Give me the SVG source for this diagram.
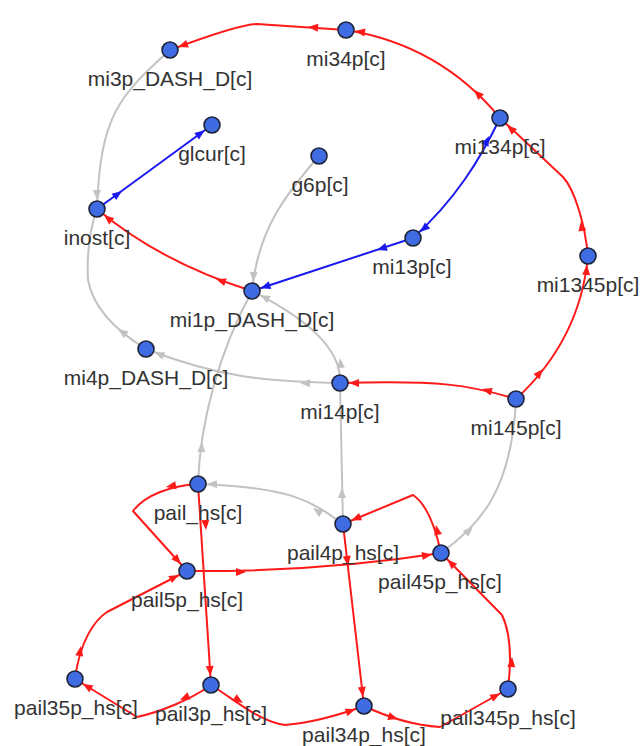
<svg xmlns="http://www.w3.org/2000/svg" xmlns:xlink="http://www.w3.org/1999/xlink" width="643" height="746" viewBox="0 0 643 746">
<style>
.e{fill:none;stroke-width:2;stroke-linejoin:round}
.er{stroke:#ff1a1a}
.eb{stroke:#1a1aee}
.eg{stroke:#c2c2c2}
.ar{fill:#ff1a1a}
.ab{fill:#1a1aee}
.ag{fill:#c2c2c2}
.n circle{fill:#3f6be3;stroke:#1e2438;stroke-width:1.6}
.n text{font-family:"Liberation Sans",Arial,sans-serif;font-size:21px;fill:#333333;text-anchor:middle}
</style>
<defs>
<path id="ah" d="M0,0 L-10,-4 L-10,4 Z"/>
</defs>
<rect width="643" height="746" fill="#ffffff"/>
<g id="connectors">
<!-- red -->
<path class="e er" d="M346,30 L257,24 Q240,24 170,50"/>
<use xlink:href="#ah" class="ar" transform="translate(308,27) rotate(184)"/>
<use xlink:href="#ah" class="ar" transform="translate(178,47) rotate(161)"/>
<path class="e er" d="M500,118 Q440,45 346,30"/>
<use xlink:href="#ah" class="ar" transform="translate(474,90) rotate(225)"/>
<use xlink:href="#ah" class="ar" transform="translate(355,31) rotate(189)"/>
<path class="e er" d="M588,256 C585,225 575,190 563,177 L500,118"/>
<use xlink:href="#ah" class="ar" transform="translate(581,221) rotate(262)"/>
<use xlink:href="#ah" class="ar" transform="translate(507,125) rotate(223)"/>
<path class="e er" d="M516,399 Q580,340 588,256"/>
<use xlink:href="#ah" class="ar" transform="translate(543,369) rotate(310)"/>
<use xlink:href="#ah" class="ar" transform="translate(587,265) rotate(275)"/>
<path class="e er" d="M516,399 C470,385 440,380 340,383"/>
<use xlink:href="#ah" class="ar" transform="translate(482,389) rotate(196)"/>
<use xlink:href="#ah" class="ar" transform="translate(349,383) rotate(180)"/>
<path class="e er" d="M252,291 Q160,262 97,209"/>
<use xlink:href="#ah" class="ar" transform="translate(216,279) rotate(199)"/>
<use xlink:href="#ah" class="ar" transform="translate(104,215) rotate(220)"/>
<path class="e er" d="M198,484 C170,486 145,495 133,511 L187,571"/>
<use xlink:href="#ah" class="ar" transform="translate(166,487) rotate(170)"/>
<use xlink:href="#ah" class="ar" transform="translate(181,564) rotate(48)"/>
<path class="e er" d="M198,484 L211,685"/>
<use xlink:href="#ah" class="ar" transform="translate(206,530) rotate(86)"/>
<use xlink:href="#ah" class="ar" transform="translate(210.4,676) rotate(86)"/>
<path class="e er" d="M187,571 Q320,572 441,553"/>
<use xlink:href="#ah" class="ar" transform="translate(246,572) rotate(0)"/>
<use xlink:href="#ah" class="ar" transform="translate(432,554.5) rotate(-9)"/>
<path class="e er" d="M343,524 L364,706"/>
<use xlink:href="#ah" class="ar" transform="translate(348,566) rotate(83)"/>
<use xlink:href="#ah" class="ar" transform="translate(363,697) rotate(83)"/>
<path class="e er" d="M441,553 C436,530 428,505 413,495 L343,524"/>
<use xlink:href="#ah" class="ar" transform="translate(436,525) rotate(-102)"/>
<use xlink:href="#ah" class="ar" transform="translate(351.3,520.6) rotate(157)"/>
<path class="e er" d="M508,689 Q514,640 502,615 L441,553"/>
<use xlink:href="#ah" class="ar" transform="translate(512,657) rotate(-86)"/>
<use xlink:href="#ah" class="ar" transform="translate(447.3,559.4) rotate(225)"/>
<path class="e er" d="M75,679 C80,640 95,620 107,612 L187,571"/>
<use xlink:href="#ah" class="ar" transform="translate(81,646) rotate(-80)"/>
<use xlink:href="#ah" class="ar" transform="translate(179,575) rotate(-27)"/>
<path class="e er" d="M211,685 C190,700 160,712 137,717 L75,679"/>
<use xlink:href="#ah" class="ar" transform="translate(180,700) rotate(155)"/>
<use xlink:href="#ah" class="ar" transform="translate(82.7,683.7) rotate(211)"/>
<path class="e er" d="M211,685 C235,700 260,722 285,725 Q320,722 364,706"/>
<use xlink:href="#ah" class="ar" transform="translate(243,703) rotate(32)"/>
<use xlink:href="#ah" class="ar" transform="translate(355.5,709.1) rotate(-20)"/>
<path class="e er" d="M364,706 C385,716 410,725 440,727 L508,689"/>
<use xlink:href="#ah" class="ar" transform="translate(398,719) rotate(17)"/>
<use xlink:href="#ah" class="ar" transform="translate(500.1,693.4) rotate(-29)"/>
<!-- blue -->
<path class="e eb" d="M500,118 C480,160 455,200 413,238"/>
<use xlink:href="#ah" class="ab" transform="translate(489,136) rotate(-66)"/>
<use xlink:href="#ah" class="ab" transform="translate(420,232) rotate(139)"/>
<path class="e eb" d="M413,238 L252,291"/>
<use xlink:href="#ah" class="ab" transform="translate(377,250) rotate(162)"/>
<use xlink:href="#ah" class="ab" transform="translate(260.5,288.2) rotate(162)"/>
<path class="e eb" d="M97,209 L212,125"/>
<use xlink:href="#ah" class="ab" transform="translate(122,191) rotate(-36)"/>
<use xlink:href="#ah" class="ab" transform="translate(204.7,130.3) rotate(-36)"/>
<!-- gray -->
<path class="e eg" d="M170,50 C120,95 100,115 97,209"/>
<use xlink:href="#ah" class="ag" transform="translate(97,200) rotate(90)"/>
<path class="e eg" d="M319,156 C285,195 258,230 252,291"/>
<use xlink:href="#ah" class="ag" transform="translate(253,282) rotate(95)"/>
<path class="e eg" d="M146,349 Q95,318 88,280 Q86,240 97,209"/>
<use xlink:href="#ah" class="ag" transform="translate(118,329) rotate(215)"/>
<path class="e eg" d="M340,383 C270,382 220,378 146,349"/>
<use xlink:href="#ah" class="ag" transform="translate(300,383) rotate(182)"/>
<use xlink:href="#ah" class="ag" transform="translate(154.4,352.3) rotate(201)"/>
<path class="e eg" d="M340,383 C342,350 310,320 252,291"/>
<use xlink:href="#ah" class="ag" transform="translate(340,358) rotate(-95)"/>
<use xlink:href="#ah" class="ag" transform="translate(260,295) rotate(207)"/>
<path class="e eg" d="M198,484 C200,420 220,350 252,291"/>
<use xlink:href="#ah" class="ag" transform="translate(202,442) rotate(-86)"/>
<path class="e eg" d="M343,524 L340,383"/>
<use xlink:href="#ah" class="ag" transform="translate(342,488) rotate(-90)"/>
<path class="e eg" d="M343,524 C310,500 290,487 198,484"/>
<use xlink:href="#ah" class="ag" transform="translate(313,508) rotate(214)"/>
<use xlink:href="#ah" class="ag" transform="translate(207,484) rotate(181)"/>
<path class="e eg" d="M441,553 C480,525 512,490 516,399"/>
<use xlink:href="#ah" class="ag" transform="translate(473,527) rotate(-42)"/>
</g>
<g id="mi34p" class="n"><circle cx="346" cy="30" r="8"/><text x="346" y="66">mi34p[c]</text></g>
<g id="mi3p_DASH_D" class="n"><circle cx="170" cy="50" r="8"/><text x="170" y="86">mi3p_DASH_D[c]</text></g>
<g id="glcur" class="n"><circle cx="212" cy="125" r="8"/><text x="212" y="161">glcur[c]</text></g>
<g id="g6p" class="n"><circle cx="319" cy="156" r="8"/><text x="320" y="192">g6p[c]</text></g>
<g id="mi134p" class="n"><circle cx="500" cy="118" r="8"/><text x="500" y="154">mi134p[c]</text></g>
<g id="inost" class="n"><circle cx="97" cy="209" r="8"/><text x="97" y="245">inost[c]</text></g>
<g id="mi13p" class="n"><circle cx="413" cy="238" r="8"/><text x="412" y="274">mi13p[c]</text></g>
<g id="mi1345p" class="n"><circle cx="588" cy="256" r="8"/><text x="588" y="292">mi1345p[c]</text></g>
<g id="mi1p_DASH_D" class="n"><circle cx="252" cy="291" r="8"/><text x="252" y="327">mi1p_DASH_D[c]</text></g>
<g id="mi4p_DASH_D" class="n"><circle cx="146" cy="349" r="8"/><text x="146" y="385">mi4p_DASH_D[c]</text></g>
<g id="mi14p" class="n"><circle cx="340" cy="383" r="8"/><text x="340" y="419">mi14p[c]</text></g>
<g id="mi145p" class="n"><circle cx="516" cy="399" r="8"/><text x="516" y="435">mi145p[c]</text></g>
<g id="pail_hs" class="n"><circle cx="198" cy="484" r="8"/><text x="198" y="520">pail_hs[c]</text></g>
<g id="pail4p_hs" class="n"><circle cx="343" cy="524" r="8"/><text x="343" y="560">pail4p_hs[c]</text></g>
<g id="pail45p_hs" class="n"><circle cx="441" cy="553" r="8"/><text x="440" y="589">pail45p_hs[c]</text></g>
<g id="pail5p_hs" class="n"><circle cx="187" cy="571" r="8"/><text x="187" y="607">pail5p_hs[c]</text></g>
<g id="pail35p_hs" class="n"><circle cx="75" cy="679" r="8"/><text x="76" y="715">pail35p_hs[c]</text></g>
<g id="pail3p_hs" class="n"><circle cx="211" cy="685" r="8"/><text x="211" y="721">pail3p_hs[c]</text></g>
<g id="pail34p_hs" class="n"><circle cx="364" cy="706" r="8"/><text x="364" y="742">pail34p_hs[c]</text></g>
<g id="pail345p_hs" class="n"><circle cx="508" cy="689" r="8"/><text x="508" y="725">pail345p_hs[c]</text></g>
</svg>
